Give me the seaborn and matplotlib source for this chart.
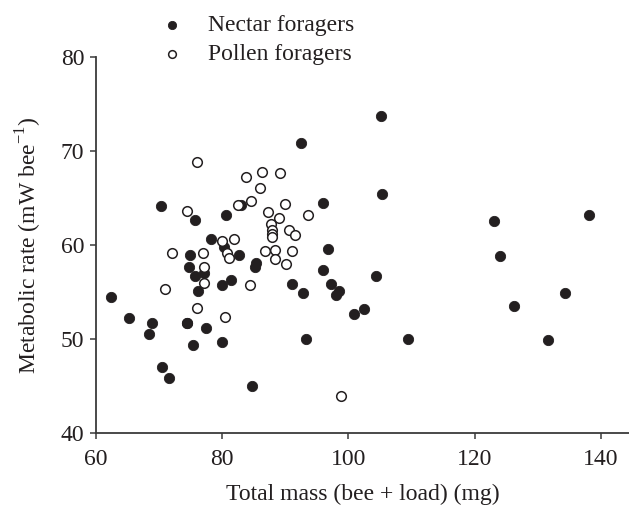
import numpy as np
import pandas as pd
import seaborn as sns
from matplotlib import pyplot as plt

# nectar foragers (filled)
nectar_mass = [62.4, 65.2, 68.8, 68.3, 70.3, 70.5, 71.6, 74.4, 74.8, 74.7, 75.7, 75.7,
               77.1, 76.2, 74.4, 77.4, 75.3, 80.0, 80.0, 80.2, 78.2, 80.6, 81.3, 82.7,
               83.0, 85.4, 85.2, 84.7, 91.0, 92.8, 93.3, 95.9, 95.9, 96.7, 97.2, 98.5,
               98.1, 100.9, 102.4, 104.3, 105.4, 105.2, 92.5, 109.4, 123.1, 124.1,
               126.3, 131.7, 134.4, 138.1]
nectar_rate = [54.5, 52.2, 51.7, 50.5, 64.1, 47.0, 45.9, 51.7, 58.9, 57.7, 56.7, 62.7,
               57.05, 55.1, 51.7, 51.2, 49.4, 49.7, 55.7, 59.8, 60.6, 63.2, 56.3, 58.9,
               64.2, 58.1, 57.7, 45.0, 55.9, 54.9, 50.0, 64.5, 57.3, 59.6, 55.85, 55.1,
               54.7, 52.7, 53.2, 56.7, 65.4, 73.7, 70.8, 50.0, 62.55, 58.8,
               53.5, 49.9, 54.9, 63.15]

# pollen foragers (open)
pollen_mass = [76.0, 74.4, 72.0, 77.0, 77.1, 77.1, 70.9, 76.0, 80.4, 80.0, 81.8, 80.7,
               81.1, 82.45, 83.8, 84.6, 84.4, 86.0, 86.3, 89.2, 90.0, 87.3, 89.0, 93.6,
               87.7, 87.9, 87.9, 87.9, 90.5, 91.6, 86.8, 88.3, 91.1, 88.3, 90.1, 98.9]
pollen_rate = [68.8, 63.6, 59.2, 59.1, 57.7, 56.0, 55.3, 53.3, 52.3, 60.45, 60.6, 59.2,
               58.6, 64.2, 67.2, 64.7, 55.8, 66.1, 67.8, 67.7, 64.4, 63.5, 62.9, 63.2,
               62.2, 61.6, 61.2, 60.8, 61.6, 61.1, 59.4, 59.5, 59.4, 58.5, 58.0, 44.0]

nectar = pd.DataFrame({'mass': nectar_mass, 'rate': nectar_rate})
pollen = pd.DataFrame({'mass': pollen_mass, 'rate': pollen_rate})

sns.set_style('ticks')
plt.rcParams['font.family'] = ['Liberation Serif', 'DejaVu Serif']
plt.rcParams['mathtext.fontset'] = 'custom'
plt.rcParams['mathtext.rm'] = 'Liberation Serif'

fig = plt.figure(figsize=(6.29, 5.12), dpi=100)
ax = fig.add_axes([0.153, 0.154, 0.847, 0.735])

dark = '#231f20'
sns.scatterplot(x='mass', y='rate', data=nectar, ax=ax, s=55, color=dark,
                edgecolor=dark, linewidth=0.6, label='Nectar foragers', zorder=3)
sns.scatterplot(x='mass', y='rate', data=pollen, ax=ax, s=48, facecolor='white',
                edgecolor=dark, linewidth=1.1, label='Pollen foragers', zorder=3)

ax.set_xlim(60, 144.5)
ax.set_ylim(40, 80)
ax.set_xticks([60, 80, 100, 120, 140])
ax.set_yticks([40, 50, 60, 70, 80])
ax.tick_params(labelsize=17, length=4.5, width=1.1, color='#3a3a3a', labelcolor=dark)
ax.tick_params(axis='x', pad=7)
ax.tick_params(axis='y', pad=4)
for s in ['left', 'bottom']:
    ax.spines[s].set_color('#3a3a3a')
    ax.spines[s].set_linewidth(1.3)
sns.despine(ax=ax)

ax.set_xlabel('Total mass (bee + load) (mg)', fontsize=17, color=dark, labelpad=10)
ax.set_ylabel('Metabolic rate (mW bee$^{\\mathregular{-1}}$)', fontsize=17, color=dark, labelpad=12)

leg = ax.legend(loc='upper left', bbox_to_anchor=(0.097, 1.112), frameon=False,
                fontsize=17, markerscale=0.8, handlelength=2.0, handletextpad=0.55,
                labelspacing=0.3, borderpad=0, borderaxespad=0)
for t in leg.get_texts():
    t.set_color(dark)

fig.savefig('out.png', dpi=100)
